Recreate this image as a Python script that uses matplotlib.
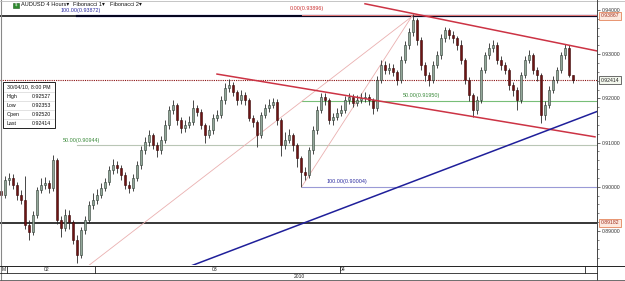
import numpy as np
import matplotlib
matplotlib.use("Agg")
import matplotlib.pyplot as plt
from matplotlib.ticker import MultipleLocator, FormatStrFormatter

plt.rcParams['font.family'] = ['Liberation Sans', 'DejaVu Sans']

# AUDUSD 4H candles, open = previous close
first_open = 0.8990
closes = [
    0.8981, 0.9015, 0.9020, 0.9004, 0.8981, 0.8970, 0.8914, 0.8898, 0.8936, 0.8993,
    0.9004, 0.9009, 0.8997, 0.9060, 0.8925, 0.8907, 0.8936, 0.8920, 0.8880, 0.8846,
    0.8902, 0.8925, 0.8959, 0.8970, 0.8981, 0.8997, 0.9011, 0.9038, 0.9049, 0.9043,
    0.9027, 0.9004, 0.8997, 0.9020, 0.9049, 0.9083, 0.9101, 0.9117, 0.9095, 0.9083,
    0.9106, 0.9140, 0.9174, 0.9185, 0.9151, 0.9133, 0.9140, 0.9147, 0.9178, 0.9169,
    0.9140, 0.9117, 0.9129, 0.9156, 0.9162, 0.9196, 0.9224, 0.9230, 0.9214, 0.9196,
    0.9208, 0.9196, 0.9156, 0.9147, 0.9117, 0.9162, 0.9178, 0.9185, 0.9192, 0.9151,
    0.9095, 0.9106, 0.9117, 0.9095, 0.9065, 0.9033, 0.9027, 0.9083, 0.9129, 0.9174,
    0.9203, 0.9196, 0.9151, 0.9158, 0.9167, 0.9174, 0.9196, 0.9203, 0.9190, 0.9196,
    0.9201, 0.9203, 0.9196, 0.9178, 0.9242, 0.9276, 0.9264, 0.9269, 0.9260, 0.9242,
    0.9287, 0.9321, 0.9350, 0.9377, 0.9332, 0.9276, 0.9253, 0.9242, 0.9276, 0.9298,
    0.9337, 0.9355, 0.9343, 0.9337, 0.9321, 0.9287, 0.9242, 0.9208, 0.9174, 0.9196,
    0.9264, 0.9298, 0.9314, 0.9321, 0.9287, 0.9276, 0.9264, 0.9230, 0.9219, 0.9196,
    0.9253, 0.9287, 0.9298, 0.9264, 0.9253, 0.9162, 0.9185, 0.9219, 0.9242, 0.9264,
    0.9298, 0.9314, 0.9252, 0.92414]
highs = [
    0.9000, 0.9025, 0.9032, 0.9028, 0.9010, 0.8992, 0.9025, 0.8925, 0.8945, 0.9000,
    0.9020, 0.9022, 0.9015, 0.9072, 0.9065, 0.8935, 0.8950, 0.8948, 0.8925, 0.8890,
    0.8910, 0.8935, 0.8968, 0.8985, 0.8995, 0.9008, 0.9020, 0.9048, 0.9062, 0.9058,
    0.9050, 0.9033, 0.9012, 0.9028, 0.9058, 0.9092, 0.9112, 0.9128, 0.9122, 0.9102,
    0.9115, 0.9150, 0.9182, 0.9196, 0.9190, 0.9158, 0.9150, 0.9160, 0.9196, 0.9186,
    0.9175, 0.9145, 0.9140, 0.9165, 0.9174, 0.9205, 0.9234, 0.9244, 0.9238, 0.9220,
    0.9218, 0.9215, 0.9200, 0.9162, 0.9150, 0.9170, 0.9188, 0.9198, 0.9200, 0.9198,
    0.9155, 0.9125, 0.9130, 0.9122, 0.9100, 0.9070, 0.9045, 0.9090, 0.9138, 0.9183,
    0.9212, 0.9212, 0.9200, 0.9168, 0.9178, 0.9185, 0.9205, 0.9212, 0.9210, 0.9208,
    0.9212, 0.9214, 0.9210, 0.9200, 0.9250, 0.9287, 0.9285, 0.9280, 0.9278, 0.9265,
    0.9295, 0.9330, 0.9360, 0.9390, 0.9382, 0.9338, 0.9282, 0.9260, 0.9285, 0.9308,
    0.9345, 0.9362, 0.9360, 0.9352, 0.9342, 0.9332, 0.9292, 0.9248, 0.9212, 0.9205,
    0.9270, 0.9305, 0.9325, 0.9332, 0.9328, 0.9295, 0.9283, 0.9268, 0.9238, 0.9225,
    0.9260, 0.9295, 0.9310, 0.9303, 0.9270, 0.9258, 0.9195, 0.9228, 0.9250, 0.9272,
    0.9305, 0.9322, 0.9320, 0.92527]
lows = [
    0.8965, 0.8975, 0.9005, 0.8995, 0.8970, 0.8960, 0.8905, 0.8880, 0.8890, 0.8930,
    0.8985, 0.8995, 0.8985, 0.8990, 0.8915, 0.8887, 0.8900, 0.8905, 0.8870, 0.8828,
    0.8840, 0.8893, 0.8918, 0.8950, 0.8960, 0.8975, 0.8990, 0.9005, 0.9030, 0.9032,
    0.9015, 0.8995, 0.8985, 0.8990, 0.9012, 0.9040, 0.9075, 0.9092, 0.9085, 0.9068,
    0.9075, 0.9098, 0.9130, 0.9165, 0.9140, 0.9122, 0.9125, 0.9132, 0.9140, 0.9160,
    0.9130, 0.9100, 0.9110, 0.9120, 0.9148, 0.9155, 0.9188, 0.9215, 0.9205, 0.9185,
    0.9188, 0.9185, 0.9148, 0.9135, 0.9090, 0.9110, 0.9155, 0.9170, 0.9178, 0.9140,
    0.9070, 0.9085, 0.9098, 0.9080, 0.9045, 0.9000, 0.9015, 0.9020, 0.9075, 0.9120,
    0.9168, 0.9185, 0.9142, 0.9140, 0.9150, 0.9160, 0.9168, 0.9188, 0.9180, 0.9182,
    0.9190, 0.9192, 0.9185, 0.9165, 0.9172, 0.9235, 0.9255, 0.9255, 0.9250, 0.9230,
    0.9235, 0.9280, 0.9312, 0.9342, 0.9320, 0.9265, 0.9240, 0.9228, 0.9235, 0.9268,
    0.9290, 0.9328, 0.9335, 0.9325, 0.9310, 0.9278, 0.9232, 0.9195, 0.9158, 0.9165,
    0.9190, 0.9258, 0.9290, 0.9305, 0.9278, 0.9265, 0.9255, 0.9220, 0.9205, 0.9174,
    0.9190, 0.9245, 0.9280, 0.9255, 0.9240, 0.9144, 0.9150, 0.9178, 0.9212, 0.9235,
    0.9258, 0.9290, 0.9248, 0.92353]

# drawn objects (bar index, price)
upper_channel = ([91.0, 149.2], [0.9414, 0.9307])
lower_channel = ([54.0, 148.5], [0.9255, 0.9113])
support_line = ([44.0, 149.2], [0.8809, 0.9171])
fib1_start, fib1_end = (75.2, 0.90004), (103.0, 0.93896)
fib2_start, fib2_end = (19.0, 0.88016), (103.0, 0.93872)
fib1_50 = 0.91950
fib2_50 = 0.90944
hlines_black = [0.93867, 0.89182]
last_price = 0.92414
info_rows = [("High", "0.92527"), ("Low", "0.92353"), ("Open", "0.92520"), ("Last", "0.92414")]
info_date = "30/04/10, 8:00 PM"

W, H = 625, 281
fig = plt.figure(figsize=(W / 100, H / 100), dpi=100)
fig.patch.set_facecolor("white")

# price panel: x px 0..597, y px 1..265
ax = fig.add_axes([0, 16 / H, 597 / W, 264 / H])
ax.set_xlim(-0.25, 149.0)
ax.set_ylim(0.88231, 0.94203)
for s in ax.spines.values():
    s.set_visible(False)

n = len(closes)
idx = np.arange(n)
c = np.array(closes)
o = np.array([first_open] + closes[:-1])
hi = np.array(highs)
lo = np.array(lows)
up = c >= o

# reference lines
xr = ax.get_xlim()[1]
ax.plot([fib2_start[0], xr], [fib2_end[1], fib2_end[1]], color="#1c1c8c", lw=1.6, zorder=2)
for lvl in hlines_black:
    ax.axhline(lvl, color="black", lw=1.1, zorder=2)
ax.plot([fib1_start[0], xr], [fib1_end[1], fib1_end[1]], color="#e07a7a", lw=0.8, zorder=3)
ax.plot([fib2_start[0], xr], [fib2_50, fib2_50], color="#b9c6b6", lw=0.8, zorder=2)
ax.plot([fib1_start[0], xr], [fib1_50, fib1_50], color="#78be78", lw=0.8, zorder=2)
ax.plot([fib1_start[0], xr], [fib1_start[1], fib1_start[1]], color="#9a9ad6", lw=0.8, zorder=2)
ax.plot([fib1_start[0], fib1_end[0]], [fib1_start[1], fib1_end[1]], color="#eab0b0", lw=0.6, zorder=2)
ax.plot([fib2_start[0], fib2_end[0]], [fib2_start[1], fib2_end[1]], color="#eab0b0", lw=0.6, zorder=2)
ax.axhline(last_price, color="#8b1010", lw=0.8, ls=(0, (1, 1)), zorder=2)

# candles
ax.vlines(idx, lo, hi, color="#2a2a2a", lw=0.6, zorder=4)
ax.bar(idx[up], np.maximum(c[up] - o[up], 0.00005), bottom=o[up], width=0.5,
       color="#93a89a", edgecolor="#2e3b33", lw=0.4, zorder=5)
ax.bar(idx[~up], np.maximum(o[~up] - c[~up], 0.00005), bottom=c[~up], width=0.5,
       color="#6e1414", edgecolor="#3a0808", lw=0.4, zorder=5)

# trend lines
ax.plot(*upper_channel, color="#cc3344", lw=1.1, zorder=6)
ax.plot(*lower_channel, color="#cc3344", lw=1.1, zorder=6)
ax.plot(*support_line, color="#1f1f9a", lw=1.1, zorder=6)

# right price axis
ax.yaxis.tick_right()
ax.yaxis.set_major_locator(MultipleLocator(0.01))
ax.yaxis.set_minor_locator(MultipleLocator(0.002))
ax.yaxis.set_major_formatter(FormatStrFormatter("%.5f"))
ax.tick_params(axis="y", which="major", length=2.0, width=0.6, pad=1.5,
               labelsize=3.7, labelcolor="#333333", color="#555555")
ax.tick_params(axis="y", which="minor", length=1.3, width=0.5, color="#555555")
ax.set_xticks([])

# labelled price boxes
boxes = [(hlines_black[0], "#e07040", "#fde9df", "#a03020"),
         (last_price, "#333333", "#f4f8ee", "#222222"),
         (hlines_black[1], "#e07040", "#fde9df", "#a03020")]
for lvl, ec, fc, tc in boxes:
    ax.text(1.006, lvl, "%.5f" % lvl, transform=ax.get_yaxis_transform(), fontsize=3.7,
            color=tc, va="center", ha="left", zorder=10, clip_on=False,
            bbox=dict(boxstyle="square,pad=0.3", fc=fc, ec=ec, lw=0.5))

# fib labels
fs = 3.9
ax.text(fib2_start[0] + 1.0, fib2_end[1] + 0.0007, "100.00(%.5f)" % fib2_end[1], fontsize=fs,
        color="#2a2aa0", ha="center", va="bottom", zorder=7)
ax.text(fib2_start[0] + 1.0, fib2_50 + 0.0005, "50.00(%.5f)" % fib2_50, fontsize=fs,
        color="#3a8a3a", ha="center", va="bottom", zorder=7)
ax.text(76.5, fib1_end[1] + 0.0009, "0.00(%.5f)" % fib1_end[1], fontsize=fs,
        color="#cc3333", ha="center", va="bottom", zorder=7)
ax.text(105.0, fib1_50 + 0.0005, "50.00(%.5f)" % fib1_50, fontsize=fs,
        color="#3a8a3a", ha="center", va="bottom", zorder=7)
ax.text(86.5, fib1_start[1] + 0.0005, "100.00(%.5f)" % fib1_start[1], fontsize=fs,
        color="#2a2aa0", ha="center", va="bottom", zorder=7)

# overlay in pixel units for frame, header, info box and time axis
ov = fig.add_axes([0, 0, 1, 1], zorder=20)
ov.set_xlim(0, W)
ov.set_ylim(H, 0)
ov.axis("off")
ov.patch.set_alpha(0)

frame = "#888888"
ov.plot([0.5, 0.5], [0, H], color=frame, lw=0.8)
ov.plot([0, W], [0.5, 0.5], color="#bbbbbb", lw=0.6)
ov.plot([597, 597], [0, H], color="#444444", lw=0.7)
ov.plot([0, W], [265.5, 265.5], color="#222222", lw=0.7)
ov.plot([0, 597], [273, 273], color="#222222", lw=0.6)
ov.plot([0, W], [280.3, 280.3], color="#555555", lw=0.6)
for xd in [7, 95, 340, 585]:
    ov.plot([xd, xd], [265.5, 273], color="#222222", lw=0.6)
for lab, xl in [("M", 3.5), ("02", 47), ("03", 215), ("04", 343)]:
    ov.text(xl, 269.5, lab, fontsize=3.6, ha="center", va="center", color="#222222")
ov.text(299, 277, "2010", fontsize=3.6, ha="center", va="center", color="#222222")

# header
ov.add_patch(plt.Rectangle((13, 2.5), 6, 5, fc="#2e8b2e", ec="#1c5c1c", lw=0.4))
ov.text(16, 5, "$", fontsize=3, color="white", ha="center", va="center")
hdr = dict(fontsize=4.1, ha="left", va="center", color="#111111",
           family=['Liberation Sans', 'DejaVu Sans'])
ov.text(21, 5, "AUDUSD 4 Hours\u25be", **hdr)
ov.text(73, 5, "Fibonacci 1\u25be", **hdr)
ov.text(110, 5, "Fibonacci 2\u25be", **hdr)

# info box
ov.add_patch(plt.Rectangle((3, 81.5), 52, 46.5, fc="white", ec="#222222", lw=0.7))
ov.text(7, 87, info_date, fontsize=3.8, ha="left", va="center", color="#111111")
for k, (lab, val) in enumerate(info_rows):
    yy = 96.5 + 9 * k
    ov.plot([4, 54], [yy - 4.5, yy - 4.5], color="#cccccc", lw=0.4)
    ov.text(7, yy, lab, fontsize=3.8, ha="left", va="center", color="#111111")
    ov.text(32, yy, val, fontsize=3.8, ha="left", va="center", color="#111111")

fig.savefig("out.png", dpi=100)
